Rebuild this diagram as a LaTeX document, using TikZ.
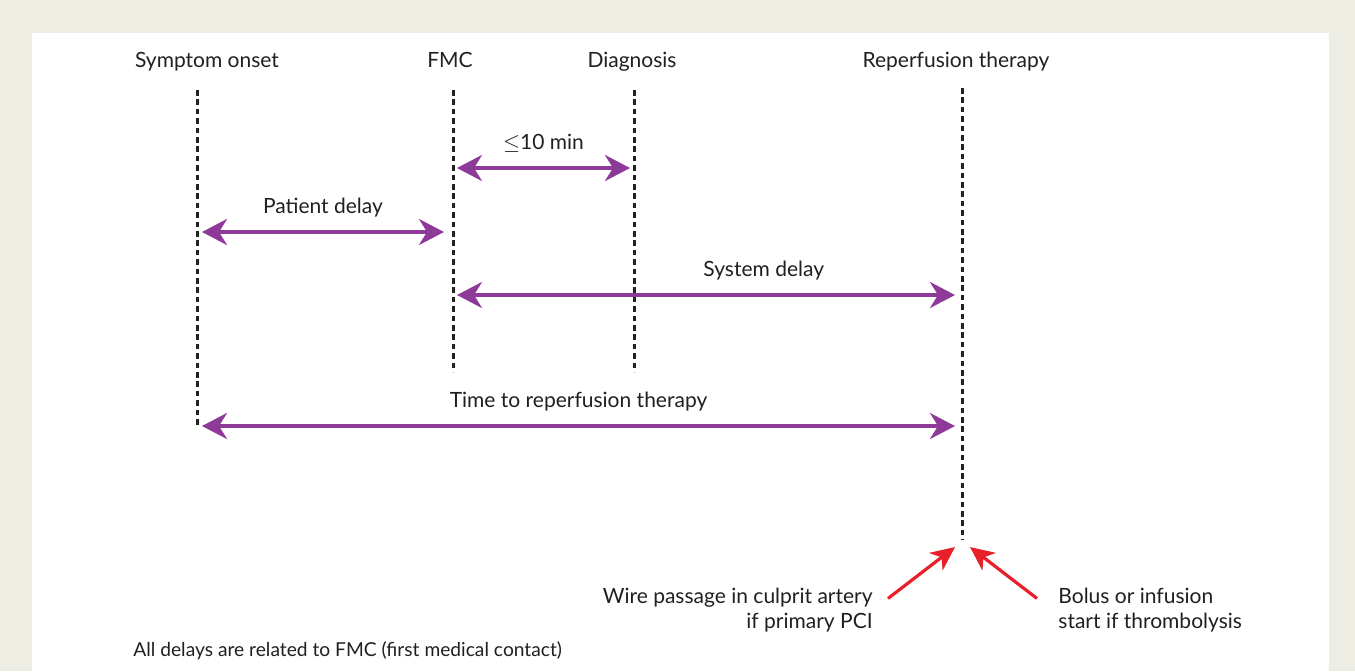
\documentclass[tikz,border=0pt]{standalone}
\usepackage{fontspec}
\setmainfont{Lato}
\usetikzlibrary{arrows.meta}
\definecolor{frame}{HTML}{EEEDE3}
\definecolor{delaypurple}{HTML}{8D3A98}
\definecolor{hitred}{HTML}{E8202A}
\definecolor{ink}{HTML}{231F20}
\tikzset{
  timeline/.style={ink,line width=1.5pt,dash pattern=on 2.8pt off 1.9pt},
  delay/.style={delaypurple,line width=1.6pt,{Stealth[length=12.5pt,width=13pt,inset=4pt]}-{Stealth[length=12.5pt,width=13pt,inset=4pt]}},
  hit/.style={hitred,line width=1.6pt,-{Stealth[length=12pt,width=11pt,inset=3.5pt]}},
  eventlabel/.style={ink,font=\fontsize{10.5}{12.6}\selectfont,inner sep=0pt,text height=1.6ex,text depth=.4ex},
  delaylabel/.style={eventlabel,above=6.5pt},
}
\begin{document}
\begin{tikzpicture}[x=0.5pt,y=-0.5pt]
\fill[frame] (0,0) rectangle (1355,671);
\fill[white] (32,33) rectangle (1329,671);
\useasboundingbox (0,0) rectangle (1355,671);
% event labels
\node[eventlabel] (onset) at (207,61) {Symptom onset};
\node[eventlabel] (fmc) at (450,61) {FMC};
\node[eventlabel] (diag) at (632,61) {Diagnosis};
\node[eventlabel] (rep) at (956,61) {Reperfusion therapy};
% time lines
\coordinate (onsetT) at (197,90); \coordinate (onsetB) at (197,425);
\coordinate (fmcT) at (453,90); \coordinate (fmcB) at (453,372);
\coordinate (diagT) at (634,90); \coordinate (diagB) at (634,372);
\coordinate (repT) at (962,88); \coordinate (repB) at (962,540);
\draw[timeline] (onsetT)--(onsetB);
\draw[timeline] (fmcT)--(fmcB);
\draw[timeline] (diagT)--(diagB);
\draw[timeline] (repT)--(repB);
% delays
\draw[delay] ([shift={(4,78)}]fmcT)--([shift={(-4,78)}]diagT)node[delaylabel,midway] (ten) {$\leq$10 min};
\draw[delay] ([shift={(5,142)}]onsetT)--([shift={(-9,142)}]fmcT)node[delaylabel,midway] (patient) {Patient delay};
\draw[delay] ([shift={(4,205)}]fmcT)--([shift={(-7,207)}]repT)node[delaylabel,pos=0.616] (system) {System delay};
\draw[delay] ([shift={(5,1)}]onsetB)--([shift={(-7,338)}]repT)node[delaylabel,midway] (total) {Time to reperfusion therapy};
% start of therapy
\node[eventlabel,align=right,anchor=east,text height=,text depth=] (wire) at (873,610) {Wire passage in culprit artery\\if primary PCI};
\node[eventlabel,align=left,anchor=west,text height=,text depth=] (bolus) at (1058,610) {Bolus or infusion\\start if thrombolysis};
\draw[hit] ([shift={(15,11)}]wire.north east)--([shift={(-7,7)}]repB);
\draw[hit] ([shift={(-21,11)}]bolus.north west)--([shift={(8,7)}]repB);
\node[eventlabel,font=\fontsize{9.6}{11.5}\selectfont,anchor=west] (note) at (133,650) {All delays are related to FMC (first medical contact)};
\end{tikzpicture}
\end{document}
